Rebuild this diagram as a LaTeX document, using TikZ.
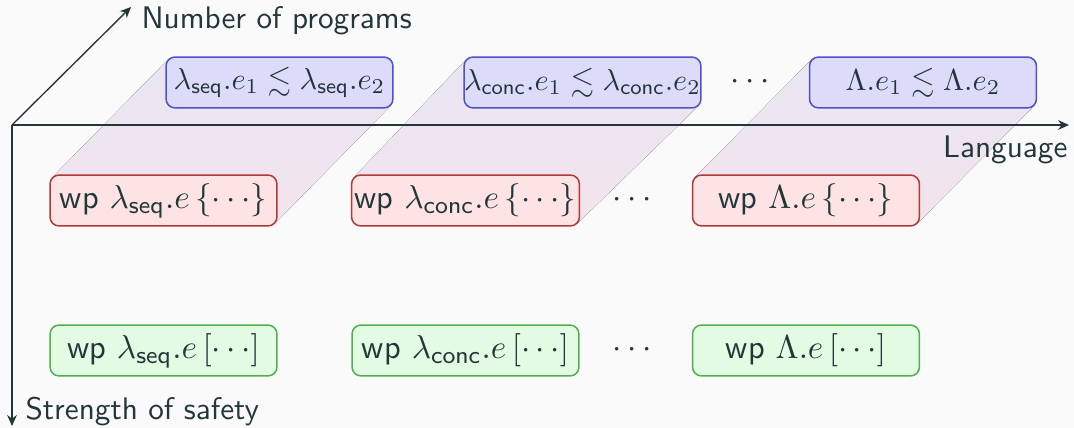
\documentclass[tikz,border=0pt]{standalone}
\usepackage{amssymb}
\usetikzlibrary{arrows.meta}
\definecolor{fg}{HTML}{23373B}
\definecolor{bgc}{HTML}{FAFAFA}
\definecolor{bfill}{RGB}{220,220,250}
\definecolor{bdraw}{RGB}{80,80,200}
\definecolor{rfill}{RGB}{253,227,227}
\definecolor{rdraw}{RGB}{176,58,58}
\definecolor{gfill}{RGB}{227,251,227}
\definecolor{gdraw}{RGB}{80,176,80}
\definecolor{shtop}{RGB}{233,229,244}
\definecolor{shbot}{RGB}{243,228,236}
\pgfdeclarelayer{back}
\pgfsetlayers{back,main}
\newcommand{\mylseq}{\lambda_{\mathsf{seq}}}
\newcommand{\mylconc}{\lambda_{\mathsf{conc}}}
\tikzset{
  box/.style={rounded corners=3pt, line width=0.5pt, minimum width=74.9pt, minimum height=16.8pt, inner xsep=1pt, inner ysep=1pt, text=fg, font=\fontsize{11}{13}\selectfont},
  bluebox/.style={box, draw=bdraw, fill=bfill, inner xsep=0pt, font=\fontsize{10}{12}\selectfont},
  redbox/.style={box, draw=rdraw, fill=rfill},
  greenbox/.style={box, draw=gdraw, fill=gfill},
  dotsnode/.style={text=fg, font=\fontsize{11}{13}\selectfont},
  axislabel/.style={text=fg, font=\fontsize{10.3}{12}\selectfont\sffamily, inner sep=0pt},
  axis/.style={draw=fg, line width=0.45pt, -{Stealth[length=3.6pt,width=3.2pt]}},
  shade/.style={top color=shtop, bottom color=shbot, draw=none}
}
\begin{document}
\begin{tikzpicture}[x=0.33pt,y=-0.33pt]
\begin{pgfonlayer}{back}
\fill[bgc] (0,0) rectangle (1074,428);
\end{pgfonlayer}
\useasboundingbox (0,0) rectangle (1074,428);

% boxes
\node[bluebox] (b1) at (279.5,82.5) {$\mylseq.e_1 \lesssim \mylseq.e_2$};
\node[bluebox] (b2) at (582.5,82.5) {$\mylconc.e_1 \lesssim \mylconc.e_2$};
\node[bluebox] (b3) at (923,82.5) {$\Lambda.e_1 \lesssim \Lambda.e_2$};
\node[dotsnode] (bd) at (750,82.5) {$\cdots$};

\node[redbox] (r1) at (163.5,200.5) {\textsf{wp} $\mylseq.e\,\{\cdots\}$};
\node[redbox] (r2) at (465.5,200.5) {\textsf{wp} $\mylconc.e\,\{\cdots\}$};
\node[redbox] (r3) at (806,200.5) {\textsf{wp} $\Lambda.e\,\{\cdots\}$};
\node[dotsnode] (rd) at (632,200.5) {$\cdots$};

\node[greenbox] (g1) at (163.5,350.5) {\textsf{wp} $\mylseq.e\,[\cdots]$};
\node[greenbox] (g2) at (465.5,350.5) {\textsf{wp} $\mylconc.e\,[\cdots]$};
\node[greenbox] (g3) at (806,350.5) {\textsf{wp} $\Lambda.e\,[\cdots]$};
\node[dotsnode] (gd) at (632,350.5) {$\cdots$};

% shades between red and blue boxes
\begin{pgfonlayer}{back}
\foreach \r/\b in {r1/b1,r2/b2,r3/b3}{
  \fill[shade] ([xshift=1pt,yshift=-1pt]\r.north west) -- ([xshift=1pt,yshift=-1pt]\b.north west) -- ([xshift=-1pt,yshift=-1pt]\b.north east) -- ([xshift=-1pt,yshift=1pt]\b.south east) -- ([xshift=-1pt,yshift=1pt]\r.south east) -- ([xshift=1pt,yshift=1pt]\r.south west) -- cycle;
}
\end{pgfonlayer}

% axes
\coordinate (o) at (12,125);
\coordinate (xend) at (1069,125);
\coordinate (yend) at (12,426);
\coordinate (zend) at (131,7);
\begin{pgfonlayer}{back}
\draw[axis] (o) -- (xend);
\draw[axis] (o) -- (yend);
\draw[axis] (o) -- (zend);
\end{pgfonlayer}

\node[axislabel, anchor=base west] (lz) at (141,29) {Number of programs};
\node[axislabel, anchor=base east] (lx) at (1068,158) {Language};
\node[axislabel, anchor=base west] (ly) at (25,420) {Strength of safety};
\end{tikzpicture}
\end{document}
